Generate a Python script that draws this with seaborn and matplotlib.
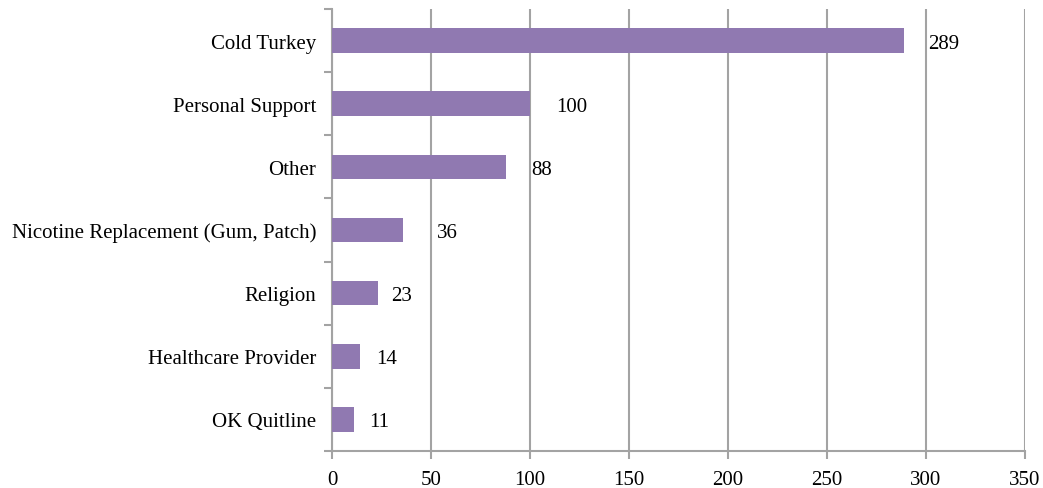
import matplotlib.pyplot as plt
import seaborn as sns

# Méthodes utilisées pour arrêter de fumer
methods = [
    'Cold Turkey',
    'Personal Support',
    'Other',
    'Nicotine Replacement (Gum, Patch)',
    'Religion',
    'Healthcare Provider',
    'OK Quitline',
]
counts = [289, 100, 88, 36, 23, 14, 11]
x_ticks = [0, 50, 100, 150, 200, 250, 300, 350]

# décalage des étiquettes (points), comme dans l'original
label_pad = [17, 19, 18, 24, 10, 11.5, 11]

BAR_COLOR = '#9079b1'
GRID_COLOR = '#a3a3a3'
FS = 15

sns.set_style('white')
plt.rcParams['font.family'] = ['Liberation Serif', 'DejaVu Serif']
plt.rcParams['text.color'] = 'black'
plt.rcParams['xtick.color'] = 'black'
plt.rcParams['ytick.color'] = 'black'

fig = plt.figure(figsize=(10.43, 4.89), dpi=100)
ax = fig.add_axes([0.3183, 0.0757, 0.6644, 0.9039])

sns.barplot(x=counts, y=methods, orient='h', color=BAR_COLOR, saturation=1,
            width=0.39, linewidth=0, ax=ax, zorder=3)

ax.set_xlim(0, 350)
ax.set_ylim(len(methods) - 0.5, -0.5)
ax.set_xticks(x_ticks)
ax.set_xticklabels([str(t) for t in x_ticks])
ax.tick_params(axis='y', which='major', left=False, labelsize=FS, pad=8,
               labelcolor='black')
for lbl in ax.get_yticklabels():
    lbl.set_verticalalignment('center_baseline')
ax.tick_params(axis='x', bottom=True, length=6, width=1.5, color=GRID_COLOR,
               pad=8, labelsize=FS, labelcolor='black')

# ticks mineurs aux limites des catégories
ax.set_yticks([i - 0.5 for i in range(len(methods) + 1)], minor=True)
ax.tick_params(axis='y', which='minor', left=True, length=6, width=1.5,
               color=GRID_COLOR)

ax.grid(axis='x', color=GRID_COLOR, linewidth=1.5, zorder=0)
ax.set_axisbelow(True)
for side in ['top', 'right']:
    ax.spines[side].set_visible(False)
for side in ['left', 'bottom']:
    ax.spines[side].set_color(GRID_COLOR)
    ax.spines[side].set_linewidth(1.5)

for i, (v, pad) in enumerate(zip(counts, label_pad)):
    ax.annotate(str(v), xy=(v, i), xytext=(pad, 0), textcoords='offset points',
                va='center_baseline', ha='left', fontsize=FS, color='black')

ax.set_xlabel('')
ax.set_ylabel('')
fig.savefig('out.png', dpi=100)
